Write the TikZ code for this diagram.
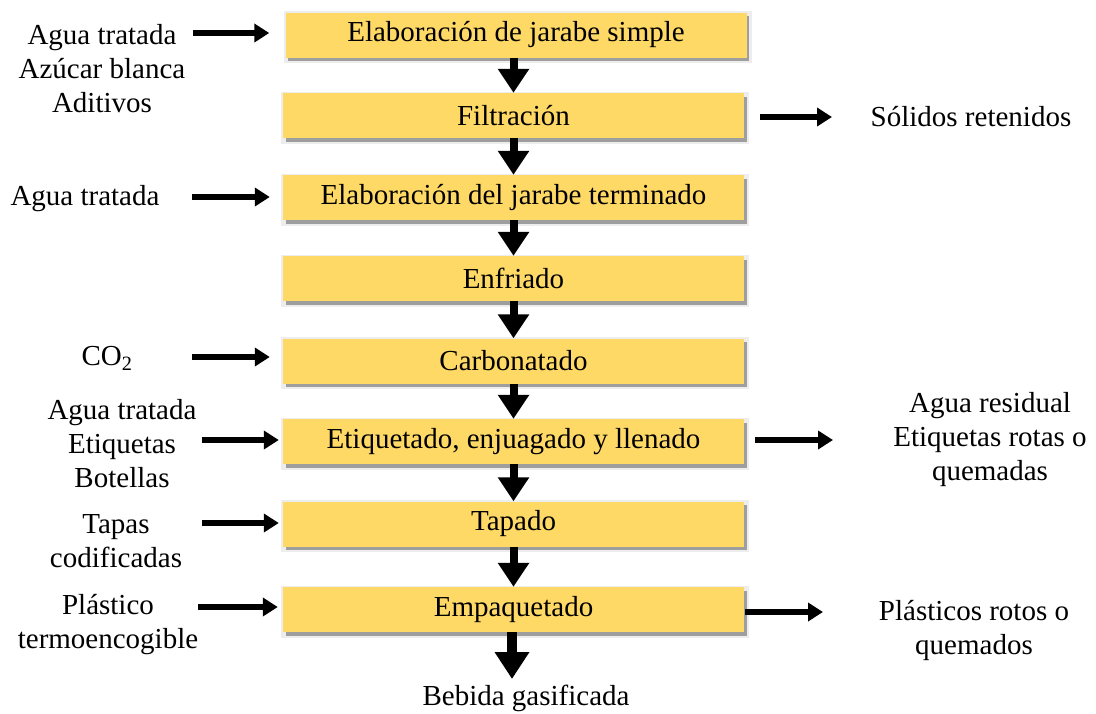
\documentclass[tikz,border=0pt]{standalone}
\usepackage{fontspec}
\setmainfont{Liberation Serif}
\usetikzlibrary{arrows.meta}
\definecolor{boxfill}{HTML}{FFD966}
\begin{document}
\begin{tikzpicture}[x=1pt,y=-1pt,
  txt/.style={font=\fontsize{29}{34}\selectfont},
  proc/.style={txt, minimum width=461pt, minimum height=45pt, fill=boxfill, inner sep=0pt,
    preaction={fill=black!7, draw=black!7, line width=7pt, transform canvas={xshift=1.5pt,yshift=-2pt}},
    preaction={fill=black!38, transform canvas={xshift=2.5pt,yshift=-3.5pt}}},
  lbl/.style={txt, align=center, inner sep=0pt},
  downarrow/.style={line width=8pt, -{Triangle[width=30pt,length=24pt]}},
  bigdown/.style={line width=10pt, -{Triangle[width=33pt,length=27pt]}},
  sidearrow/.style={line width=5.5pt, -{Triangle[width=18pt,length=15pt]}},
]
\useasboundingbox (0,0) rectangle (1096,713);

% process boxes
\node[proc] (b1) at (516,35)    {Elaboración de jarabe simple};
\node[proc] (b2) at (513.5,115.5) {Filtración};
\node[proc] (b3) at (513.5,197.5) {Elaboración del jarabe terminado};
\node[proc] (b4) at (513.5,278.5) {Enfriado};
\node[proc] (b5) at (513.5,361)   {Carbonatado};
\node[proc] (b6) at (513.5,441.5) {Etiquetado, enjuagado y llenado};
\node[proc] (b7) at (513.5,524)   {Tapado};
\node[proc] (b8) at (513.5,609.5) {Empaquetado};

% down arrows
\draw[downarrow] (b2.north |- b1.south) -- (b2.north);
\draw[downarrow] (b2.south) -- (b3.north);
\draw[downarrow] (b3.south) -- (b4.north);
\draw[downarrow] (b4.south) -- (b5.north);
\draw[downarrow] (b5.south) -- (b6.north);
\draw[downarrow] (b6.south) -- (b7.north);
\draw[downarrow] (b7.south) -- (b8.north);
\node[lbl] (out) at (526,698) {Bebida gasificada};
\coordinate (tip) at (512,679);
\draw[bigdown] (tip |- b8.south) -- (tip);

% inputs (left)
\node[lbl] (i1) at (102,69)  {Agua tratada\\Azúcar blanca\\Aditivos};
\node[lbl] (i3) at (85,199)  {Agua tratada};
\node[lbl] (i5) at (107,358) {CO\textsubscript{2}};
\node[lbl] (i6) at (122,444) {Agua tratada\\Etiquetas\\Botellas};
\node[lbl] (i7) at (116,541) {Tapas\\codificadas};
\node[lbl] (i8) at (108,625) {Plástico\\termoencogible};

\coordinate (s1) at (193,33);
\coordinate (s3) at (192,197);
\coordinate (s5) at (192,357);
\coordinate (s6) at (202,440);
\coordinate (s7) at (202,523);
\coordinate (s8) at (198,607);
\draw[sidearrow, shorten >=16pt] (s1) -- (s1 -| b1.west);
\draw[sidearrow, shorten >=13pt] (s3) -- (s3 -| b3.west);
\draw[sidearrow, shorten >=13pt] (s5) -- (s5 -| b5.west);
\draw[sidearrow, shorten >=4pt]  (s6) -- (s6 -| b6.west);
\draw[sidearrow, shorten >=4pt]  (s7) -- (s7 -| b7.west);
\draw[sidearrow, shorten >=5pt]  (s8) -- (s8 -| b8.west);

% outputs (right)
\node[lbl] (o2) at (971,117) {Sólidos retenidos};
\node[lbl] (o6) at (990,440) {Agua residual\\Etiquetas rotas o\\quemadas};
\node[lbl] (o8) at (974,630) {Plásticos rotos o\\quemados};

\coordinate (e2) at (832,117);
\coordinate (e6) at (833,440);
\coordinate (e8) at (823,612);
\draw[sidearrow, shorten <=16pt] (e2 -| b2.east) -- (e2);
\draw[sidearrow, shorten <=11pt] (e6 -| b6.east) -- (e6);
\draw[sidearrow, shorten <=1pt]  (e8 -| b8.east) -- (e8);
\end{tikzpicture}
\end{document}
